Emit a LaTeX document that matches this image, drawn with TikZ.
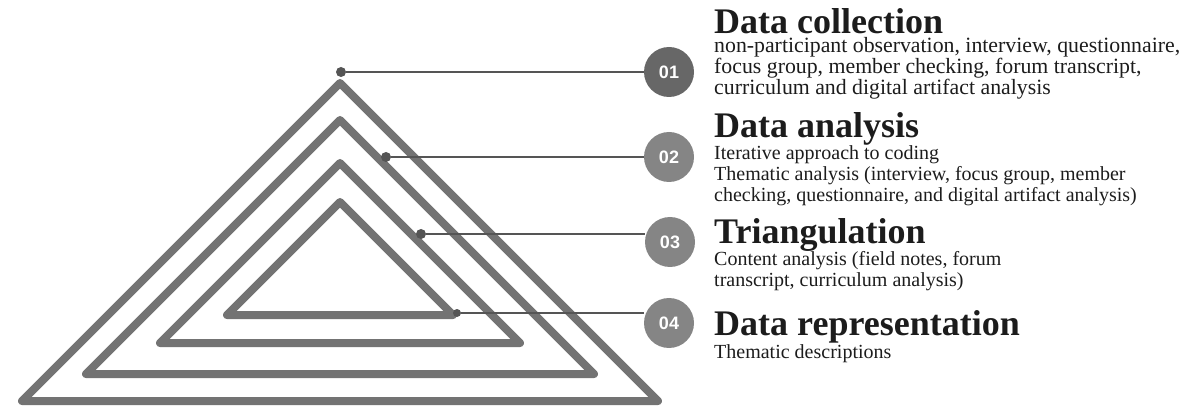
\documentclass[tikz,border=0pt]{standalone}
\usepackage{fontspec}
\setmainfont{Liberation Serif}
\newfontfamily\numfont{Liberation Sans}
\usepackage{tikz}
\usetikzlibrary{positioning,calc}
\definecolor{TriGray}{HTML}{737373}
\definecolor{PinGray}{HTML}{555555}
\definecolor{BadgeDark}{HTML}{676767}
\definecolor{BadgeMid}{HTML}{858585}
\definecolor{InkBlack}{HTML}{1C1C1C}

\begin{document}
\begin{tikzpicture}[x=1pt, y=-1pt, line join=round,
  tri/.style={draw=TriGray, line width=8pt},
  pin/.style={circle, fill=PinGray, inner sep=0pt, minimum size=10pt},
  badge/.style={circle, fill=BadgeMid, text=white, minimum size=50pt, inner sep=0pt, font=\numfont\bfseries\fontsize{18}{18}\selectfont},
  heading/.style={anchor=base west, inner sep=0pt, text=InkBlack, font=\bfseries\fontsize{36}{36}\selectfont},
  detail/.style={anchor=base west, inner sep=0pt, text=InkBlack, align=left, font=\fontsize{20}{21}\selectfont},
  link/.style={draw=PinGray, line width=2pt}]

\useasboundingbox (0,0) rectangle (1184,406);

% nested triangles, apex y / base y
\foreach \top/\bot in {83/401,120/374,163/343,202/315}{
  \pgfmathsetmacro\hw{\bot-\top}
  \draw[tri] (340-\hw,\bot) -- (340,\top) -- (340+\hw,\bot) -- cycle;
}

\node[pin] (p1) at (341,72) {};
\node[pin] (p2) at (386,157) {};
\node[pin] (p3) at (421,234) {};
\node[pin, minimum size=8pt] (p4) at (457,313) {};

\node[badge, fill=BadgeDark] (b1) at (669,72) {01};
\node[badge] (b2) at (669,157) {02};
\node[badge] (b3) at (670,242) {03};
\node[badge] (b4) at (669,323) {04};

\foreach \i in {1,...,4}{\draw[link] (p\i) -- (p\i -| b\i.west);}

% headings sit on their baseline, details on their last baseline
\node[heading] (h1) at (714,34) {Data collection};
\node[detail, font=\fontsize{21.8}{21}\selectfont] (d1) at (714,95) {non-participant observation, interview, questionnaire,\\focus group, member checking, forum transcript,\\curriculum and digital artifact analysis};

\node[heading] (h2) at (714,138) {Data analysis};
\node[detail] (d2) at (714,202) {Iterative approach to coding\\Thematic analysis (interview, focus group, member\\checking, questionnaire, and digital artifact analysis)};

\node[heading] (h3) at (714,244) {Triangulation};
\node[detail] (d3) at (714,287) {Content analysis (field notes, forum\\transcript, curriculum analysis)};

\node[heading] (h4) at (714,335) {Data representation};
\node[detail] (d4) at (714,358) {Thematic descriptions};
\end{tikzpicture}
\end{document}
